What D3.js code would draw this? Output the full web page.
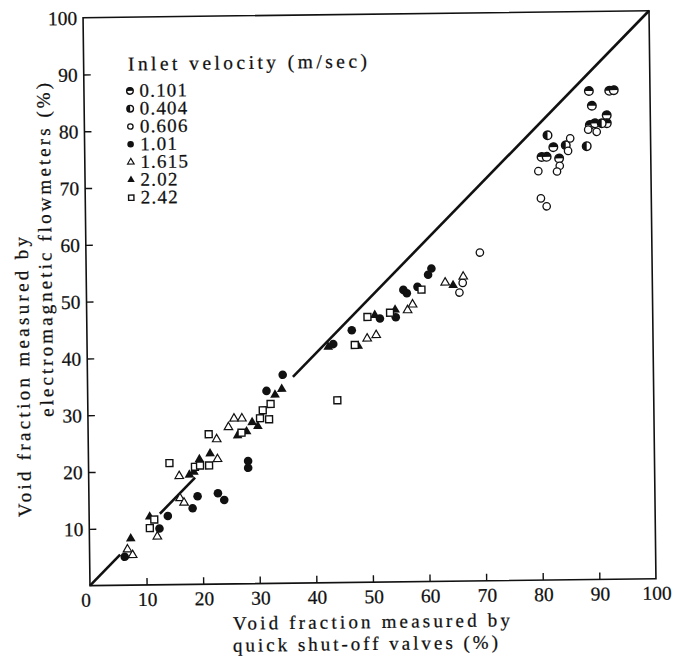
<!DOCTYPE html>
<html>
<head>
<meta charset="utf-8">
<script src="https://cdn.jsdelivr.net/npm/d3@7"></script>
<style>
  html, body { margin: 0; padding: 0; background: #fff; }
  svg { display: block; }
  text { font-family: "Liberation Serif", "DejaVu Serif", serif; fill: #111; stroke: #111; stroke-width: 0.25; }
</style>
</head>
<body>
<svg id="chart" width="673" height="657"></svg>
<script>
// Axis ticks (percent)
const xTickValues = [0, 10, 20, 30, 40, 50, 60, 70, 80, 90, 100];
const yTickValues = [10, 20, 30, 40, 50, 60, 70, 80, 90, 100];

// Inlet velocities (m/sec) shown in the legend
const velocities = ["0.101", "0.404", "0.606", "1.01", "1.615", "2.02", "2.42"];

// Void fraction pairs [quick shut-off valves %, electromagnetic flowmeters %]
const v0101 = [[89.2, 86.0], [92.8, 86.0], [93.6, 86.1], [89.7, 83.4], [92.3, 81.7],
               [89.3, 80.0], [90.2, 80.3], [92.3, 80.3], [82.8, 76.2], [80.7, 74.5],
               [81.6, 74.5], [83.8, 74.2]];
const v0404 = [[81.8, 78.3], [85.0, 76.5], [88.7, 76.3], [91.4, 80.3]];
const v0606 = [[85.8, 77.7], [90.5, 78.8], [89.0, 79.2], [85.4, 75.5], [83.9, 72.9],
               [83.4, 71.9], [80.1, 72.0], [80.5, 67.2], [81.5, 65.8], [69.6, 57.8],
               [66.5, 52.5], [65.9, 50.8]];
const v101  = [[6.2, 5.0], [12.4, 9.9], [13.9, 12.1], [18.3, 13.4], [19.2, 15.5],
               [22.8, 16.0], [23.9, 14.8], [28.2, 21.6], [28.2, 20.4], [31.6, 33.9],
               [34.5, 36.7], [43.5, 42.0], [46.8, 44.4], [51.8, 46.4], [54.6, 46.6],
               [56.0, 51.4], [56.6, 50.8], [58.5, 51.9], [60.4, 54.0], [61.0, 55.1]];
const v1615 = [[6.7, 6.3], [7.6, 5.3], [12.0, 8.5], [16.1, 15.2], [16.8, 14.4],
               [16.0, 19.1], [22.8, 22.0], [22.7, 25.5], [24.8, 27.6], [25.8, 29.1],
               [27.2, 29.1], [49.5, 42.9], [51.1, 43.5], [56.7, 47.8], [57.6, 48.8],
               [63.4, 52.6], [66.6, 53.6]];
const v202  = [[7.3, 8.2], [10.7, 12.0], [17.8, 19.3], [18.6, 19.8], [19.6, 22.0],
               [21.5, 23.0], [26.4, 26.1], [28.0, 26.8], [29.0, 28.4], [30.0, 27.7],
               [33.1, 33.2], [34.3, 34.2], [42.6, 41.5], [47.9, 41.6], [50.9, 47.0],
               [54.5, 47.9], [64.8, 52.1]];
const v242  = [[10.7, 10.0], [11.5, 11.5], [14.3, 21.4], [18.8, 20.7], [19.7, 20.9],
               [21.3, 20.9], [21.3, 26.4], [27.1, 26.6], [30.4, 29.1], [32.0, 28.9],
               [30.9, 30.5], [32.3, 31.6], [44.1, 32.1], [47.3, 41.8], [49.6, 46.7],
               [53.6, 47.4], [59.2, 51.4]];

// Pieces of the line of equality (y = x), broken where the points crowd it
const equalityPieces = [[0, 5.4], [12.5, 18.8], [36.3, 100]];

const svg = d3.select("#chart");
// The printed figure sits slightly askew on the page
const root = svg.append("g").attr("transform", "rotate(-0.7, 369.5, 298.2)");

const x = d3.scaleLinear().domain([0, 100]).range([86.5, 652.5]);
const y = d3.scaleLinear().domain([0, 100]).range([582.2, 14.2]);

// Frame
root.append("rect")
  .attr("x", x(0)).attr("y", y(100))
  .attr("width", x(100) - x(0)).attr("height", y(0) - y(100))
  .attr("fill", "none").attr("stroke", "#111").attr("stroke-width", 1.6);

// Axes with inward ticks
const xAxis = d3.axisTop(x).tickValues(xTickValues.filter(d => d > 0 && d < 100))
  .tickSize(7).tickFormat("");
root.append("g").attr("transform", `translate(0,${y(0)})`).call(xAxis)
  .call(g => g.select(".domain").remove())
  .call(g => g.selectAll("line").attr("stroke", "#111").attr("stroke-width", 1.4));

const yAxis = d3.axisRight(y).tickValues(yTickValues.filter(d => d < 100))
  .tickSize(7).tickFormat("");
root.append("g").attr("transform", `translate(${x(0)},0)`).call(yAxis)
  .call(g => g.select(".domain").remove())
  .call(g => g.selectAll("line").attr("stroke", "#111").attr("stroke-width", 1.4));

// Tick labels
root.append("g").selectAll("text").data(xTickValues).join("text")
  .attr("x", d => x(d) + (d === 0 ? -4 : 1))
  .attr("y", y(0) + 21)
  .attr("text-anchor", "middle")
  .attr("font-size", 19.5)
  .text(d => d);

root.append("g").selectAll("text").data(yTickValues).join("text")
  .attr("x", x(0) - 6)
  .attr("y", d => y(d))
  .attr("dy", "0.36em")
  .attr("text-anchor", "end")
  .attr("font-size", 19.5)
  .text(d => d);

// Axis titles
const xTitle = [["Void fraction measured by", 367.5, 628, 277],
                ["quick shut-off valves (%)", 361.2, 650, 265]];
root.append("g").selectAll("text").data(xTitle).join("text")
  .attr("x", d => d[1] - d[3] / 2).attr("y", d => d[2])
  .attr("font-size", 19)
  .attr("textLength", d => d[3]).attr("lengthAdjust", "spacing")
  .text(d => d[0]);

const yTitle = [["Void fraction measured by", 28.5, 372.8, 280],
                ["electromagnetic flowmeters (%)", 52, 246, 334]];
root.append("g").selectAll("text").data(yTitle).join("text")
  .attr("transform", d => `translate(${d[1]},${d[2] + d[3] / 2}) rotate(-90)`)
  .attr("font-size", 19)
  .attr("textLength", d => d[3]).attr("lengthAdjust", "spacing")
  .text(d => d[0]);

// Line of equality
const eqLine = d3.line().x(d => x(d)).y(d => y(d));
root.append("g").selectAll("path").data(equalityPieces).join("path")
  .attr("d", d => eqLine(d))
  .attr("fill", "none").attr("stroke", "#111").attr("stroke-width", 2.6);

// Marker drawing helpers
const INK = "#111";
function drawMarker(g, kind, r) {
  if (kind === "top" || kind === "left") {
    g.append("circle").attr("r", r).attr("fill", "#fff").attr("stroke", INK).attr("stroke-width", 1.4);
    const half = kind === "top"
      ? `M${-r},0 A${r},${r} 0 0 1 ${r},0 Z`
      : `M0,${-r} A${r},${r} 0 0 0 0,${r} Z`;
    g.append("path").attr("d", half).attr("fill", INK);
  } else if (kind === "open") {
    g.append("circle").attr("r", r - 0.6).attr("fill", "#fff").attr("stroke", INK).attr("stroke-width", 1.3);
  } else if (kind === "dot") {
    g.append("circle").attr("r", r).attr("fill", INK);
  } else if (kind === "tri-open") {
    g.append("path").attr("d", d3.symbol(d3.symbolTriangle, r * r * 1.7)())
      .attr("fill", "#fff").attr("stroke", INK).attr("stroke-width", 1.2);
  } else if (kind === "tri") {
    g.append("path").attr("d", d3.symbol(d3.symbolTriangle, r * r * 2.2)()).attr("fill", INK);
  } else if (kind === "square") {
    g.append("path").attr("d", d3.symbol(d3.symbolSquare, r * r * 2.6)())
      .attr("fill", "#fff").attr("stroke", INK).attr("stroke-width", 1.4);
  }
}

const seriesList = [
  { label: velocities[0], kind: "top",      data: v0101 },
  { label: velocities[1], kind: "left",     data: v0404 },
  { label: velocities[2], kind: "open",     data: v0606 },
  { label: velocities[3], kind: "dot",      data: v101 },
  { label: velocities[4], kind: "tri-open", data: v1615 },
  { label: velocities[5], kind: "tri",      data: v202 },
  { label: velocities[6], kind: "square",   data: v242 }
];

// Data points
seriesList.forEach(s => {
  root.append("g").selectAll("g").data(s.data).join("g")
    .attr("transform", d => `translate(${x(d[0])},${y(d[1])})`)
    .each(function () { drawMarker(d3.select(this), s.kind, 4.3); });
});

// Legend
root.append("text")
  .attr("x", 130.8).attr("y", 67.5)
  .attr("font-size", 19.5)
  .attr("textLength", 239).attr("lengthAdjust", "spacing")
  .text("Inlet velocity (m/sec)");

const legend = root.append("g").selectAll("g").data(seriesList).join("g")
  .attr("transform", (d, i) => `translate(0,${94 + i * 17.8})`);
legend.each(function (d) {
  const g = d3.select(this);
  drawMarker(g.append("g").attr("transform", "translate(132.5,-6)"), d.kind, 3.3);
  g.append("text").attr("x", 142).attr("y", 0)
    .attr("font-size", 19).attr("letter-spacing", 1.2)
    .text(d.label);
});
</script>
</body>
</html>
